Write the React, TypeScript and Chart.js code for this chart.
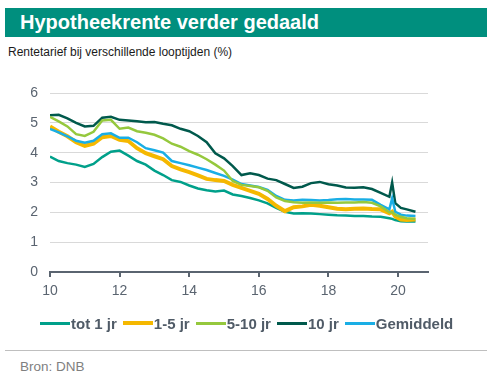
import React, { useEffect, useRef } from "react";
import { Chart, registerables } from "chart.js";

Chart.register(...registerables);

const years = [
  10.0, 10.25, 10.5, 10.75, 11.0, 11.25, 11.5, 11.75, 12.0, 12.25, 12.5, 12.75,
  13.0, 13.25, 13.5, 13.75, 14.0, 14.25, 14.5, 14.75, 15.0, 15.25, 15.5, 15.75,
  16.0, 16.25, 16.5, 16.75, 17.0, 17.25, 17.5, 17.75, 18.0, 18.25, 18.5, 18.75,
  19.0, 19.25, 19.5, 19.75, 19.83, 19.92, 20.08, 20.25, 20.5,
];

const tot1 = [
  3.87, 3.72, 3.65, 3.6, 3.52, 3.62, 3.85, 4.03, 4.07, 3.9, 3.72, 3.6,
  3.4, 3.25, 3.08, 3.02, 2.9, 2.8, 2.74, 2.7, 2.73, 2.6, 2.55, 2.48,
  2.4, 2.3, 2.15, 2.02, 1.96, 1.97, 1.96, 1.94, 1.92, 1.9, 1.89, 1.88,
  1.88, 1.86, 1.85, 1.8, 1.78, 1.74, 1.7, 1.69, 1.69,
];

const jr1to5 = [
  4.88, 4.7, 4.55, 4.35, 4.23, 4.3, 4.52, 4.56, 4.43, 4.39, 4.15, 3.98,
  3.88, 3.78, 3.55, 3.44, 3.35, 3.24, 3.12, 3.08, 3.05, 2.92, 2.82, 2.72,
  2.62, 2.45, 2.22, 2.04, 2.17, 2.2, 2.25, 2.22, 2.17, 2.12, 2.1, 2.12,
  2.13, 2.11, 2.1, 1.97, 2.02, 1.86, 1.76, 1.74, 1.76,
];

const jr5to10 = [
  5.2, 5.05, 4.88, 4.62, 4.56, 4.7, 5.08, 5.1, 4.8, 4.84, 4.72, 4.67,
  4.6, 4.48, 4.3, 4.2, 4.05, 3.93, 3.78, 3.6, 3.4, 3.05, 2.92, 2.88,
  2.84, 2.72, 2.5, 2.38, 2.34, 2.32, 2.33, 2.32, 2.33, 2.32, 2.33, 2.33,
  2.35, 2.32, 2.2, 2.0, 2.0, 1.92, 1.85, 1.8, 1.78,
];

const jr10 = [
  5.25, 5.27, 5.15, 5.0, 4.88, 4.9, 5.17, 5.2, 5.1, 5.08, 5.05, 5.02,
  5.03, 4.97, 4.92, 4.8, 4.72, 4.56, 4.35, 3.98, 3.81, 3.55, 3.25, 3.31,
  3.25, 3.13, 3.08, 2.95, 2.82, 2.86, 2.98, 3.02, 2.94, 2.9, 2.83, 2.82,
  2.84, 2.78, 2.65, 2.52, 3.0, 2.31, 2.15, 2.1, 2.02,
];

const gemiddeld = [
  4.8, 4.68, 4.55, 4.4, 4.33, 4.4, 4.62, 4.65, 4.5, 4.5, 4.35, 4.15,
  4.08, 4.0, 3.72, 3.65, 3.58, 3.5, 3.42, 3.32, 3.22, 3.1, 2.95, 2.9,
  2.85, 2.75, 2.55, 2.42, 2.4, 2.42, 2.41, 2.4, 2.41, 2.44, 2.45, 2.43,
  2.43, 2.42, 2.25, 2.1, 2.47, 2.02, 1.92, 1.89, 1.88,
];

const xTicks = [10, 12, 14, 16, 18, 20];
const yTicks = [0, 1, 2, 3, 4, 5, 6];

const seriesNames = ["tot 1 jr", "1-5 jr", "5-10 jr", "10 jr", "Gemiddeld"];
const seriesColors = ["#00a08a", "#f5b800", "#95c83d", "#00594c", "#1aaee5"];
const seriesWidths = [2.5, 4, 2.5, 2.5, 2.5];
const seriesValues = [tot1, jr1to5, jr5to10, jr10, gemiddeld];
const seriesOrder = [4, 3, 1, 5, 2];

const FONT = "'Liberation Sans', Arial, sans-serif";

export default function App() {
  const canvasRef = useRef<HTMLCanvasElement | null>(null);

  useEffect(() => {
    if (!canvasRef.current) return;
    const chart = new Chart(canvasRef.current, {
      type: "line",
      data: {
        datasets: seriesNames.map((name, i) => ({
          label: name,
          data: years.map((x, j) => ({ x, y: seriesValues[i][j] })),
          borderColor: seriesColors[i],
          backgroundColor: seriesColors[i],
          borderWidth: seriesWidths[i],
          pointRadius: 0,
          tension: 0,
          order: seriesOrder[i],
        })),
      },
      options: {
        animation: false,
        responsive: false,
        maintainAspectRatio: false,
        layout: { padding: { top: 23, right: 68, bottom: 18, left: 0 } },
        plugins: {
          legend: { display: false },
          tooltip: { enabled: false },
        },
        scales: {
          x: {
            type: "linear",
            min: 10,
            max: 20.86,
            afterBuildTicks: (s: any) => {
              s.ticks = xTicks.map((v) => ({ value: v }));
            },
            afterFit: (s: any) => {
              s.height = 30;
            },
            border: { display: true, color: "#5a6470", width: 2 },
            grid: {
              drawOnChartArea: false,
              drawTicks: true,
              tickLength: 5,
              color: "#5a6470",
              lineWidth: 2,
            },
            ticks: {
              color: "#5a6470",
              font: { family: FONT, size: 14 },
              padding: 6,
              maxRotation: 0,
              callback: (v: any) => String(v),
            },
          },
          y: {
            min: 0,
            max: 6,
            afterBuildTicks: (s: any) => {
              s.ticks = yTicks.map((v) => ({ value: v }));
            },
            afterFit: (s: any) => {
              s.width = 50;
            },
            border: { display: false },
            grid: {
              color: (ctx: any) => (ctx.tick && ctx.tick.value === 0 ? "rgba(0,0,0,0)" : "#d9d9d9"),
              lineWidth: 1,
              drawTicks: false,
            },
            ticks: {
              color: "#5a6470",
              font: { family: FONT, size: 14 },
              padding: 12,
            },
          },
        },
      },
    });
    return () => chart.destroy();
  }, []);

  return (
    <div
      style={{
        position: "absolute",
        left: 0,
        top: 0,
        width: 496,
        height: 379,
        background: "#ffffff",
        fontFamily: FONT,
        overflow: "hidden",
      }}
    >
      <div
        style={{
          position: "absolute",
          left: 5,
          top: 8,
          width: 482,
          height: 29,
          background: "#008f7e",
        }}
      />
      <div
        style={{
          position: "absolute",
          left: 20,
          top: 8,
          height: 29,
          lineHeight: "29px",
          color: "#ffffff",
          fontWeight: "bold",
          fontSize: 20,
          whiteSpace: "nowrap",
        }}
      >
        Hypotheekrente verder gedaald
      </div>
      <div
        style={{
          position: "absolute",
          left: 8,
          top: 44,
          lineHeight: "16px",
          color: "#1a1a1a",
          fontSize: 12,
          whiteSpace: "nowrap",
        }}
      >
        Rentetarief bij verschillende looptijden (%)
      </div>
      <canvas
        ref={canvasRef}
        width={496}
        height={250}
        style={{ position: "absolute", left: 0, top: 70, width: 496, height: 250 }}
      />
      <div
        style={{
          position: "absolute",
          left: 40,
          top: 313,
          height: 20,
          display: "flex",
          alignItems: "center",
          gap: 6,
          whiteSpace: "nowrap",
        }}
      >
        {seriesNames.map((name, i) => (
          <div key={name} style={{ display: "flex", alignItems: "center" }}>
            <span
              style={{
                display: "inline-block",
                width: 30,
                height: i === 1 ? 4 : 3,
                background: seriesColors[i],
                marginRight: 1,
              }}
            />
            <span style={{ color: "#505b67", fontWeight: "bold", fontSize: 15 }}>{name}</span>
          </div>
        ))}
      </div>
      <div
        style={{
          position: "absolute",
          left: 5,
          top: 350,
          width: 482,
          height: 1,
          background: "#bfbfbf",
        }}
      />
      <div
        style={{
          position: "absolute",
          left: 20,
          top: 359,
          lineHeight: "16px",
          color: "#7f7f7f",
          fontSize: 13.5,
          whiteSpace: "nowrap",
        }}
      >
        Bron: DNB
      </div>
    </div>
  );
}
